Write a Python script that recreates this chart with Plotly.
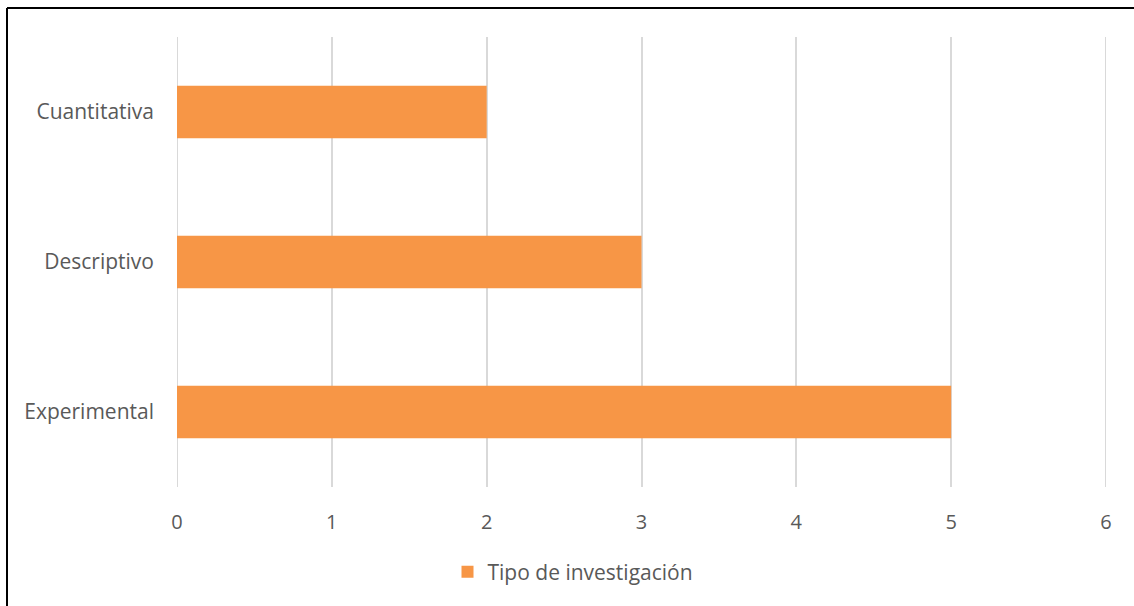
import plotly.graph_objects as go

# Research type counts
categories = ["Experimental", "Descriptivo", "Cuantitativa"]
values = [5, 3, 2]
series_name = "Tipo de investigación"
x_ticks = [0, 1, 2, 3, 4, 5, 6]

W, H = 1134, 606
L, R, T, B = 177, 28, 37, 119
pw, ph = W - L - R, H - T - B

text_color = "#595959"
grid_color = "#D9D9D9"
font = dict(family="Open Sans, sans-serif", size=18, color=text_color)

fig = go.Figure()
fig.add_trace(go.Bar(
    y=categories,
    x=values,
    orientation="h",
    name=series_name,
    marker=dict(color="#F79646", line=dict(width=0)),
    width=0.35,
    showlegend=True,
))

# Gridlines at the two ends of the value axis
for xv in (x_ticks[0], x_ticks[-1]):
    fig.add_shape(type="line", xref="x", yref="paper",
                  x0=xv, x1=xv, y0=0, y1=1, layer="below",
                  line=dict(color=grid_color, width=2))

# Frame lines along top and left edges of the image
fig.add_shape(type="line", xref="paper", yref="paper",
              x0=(7 - L) / pw, x1=(W + 5 - L) / pw,
              y0=1 + (T - 8) / ph, y1=1 + (T - 8) / ph,
              line=dict(color="black", width=2))
fig.add_shape(type="line", xref="paper", yref="paper",
              x0=(7 - L) / pw, x1=(7 - L) / pw,
              y0=1 + (T - 8) / ph, y1=-(B + 5) / ph,
              line=dict(color="black", width=2))

fig.update_layout(
    width=W, height=H,
    margin=dict(l=L, r=R, t=T, b=B, pad=0),
    paper_bgcolor="white",
    plot_bgcolor="white",
    font=font,
    showlegend=True,
    legend=dict(
        orientation="h",
        x=(W / 2 + 6 - L) / pw, xanchor="center",
        y=-(572 - T - ph) / ph, yanchor="middle",
        font=dict(family="Open Sans, sans-serif", size=21, color=text_color),
        itemwidth=30,
    ),
    xaxis=dict(
        range=[0, 6],
        tickvals=x_ticks,
        showgrid=True,
        gridcolor=grid_color,
        gridwidth=2,
        zeroline=False,
        showline=False,
        ticks="",
        ticklabelstandoff=21,
        tickfont=dict(size=20, color=text_color),
    ),
    yaxis=dict(
        showgrid=False,
        zeroline=False,
        showline=False,
        ticks="",
        ticklabelstandoff=22,
        tickfont=dict(size=21, color=text_color),
        range=[-0.5, 2.5],
    ),
    bargap=0.65,
)

fig.write_html("out.html")
